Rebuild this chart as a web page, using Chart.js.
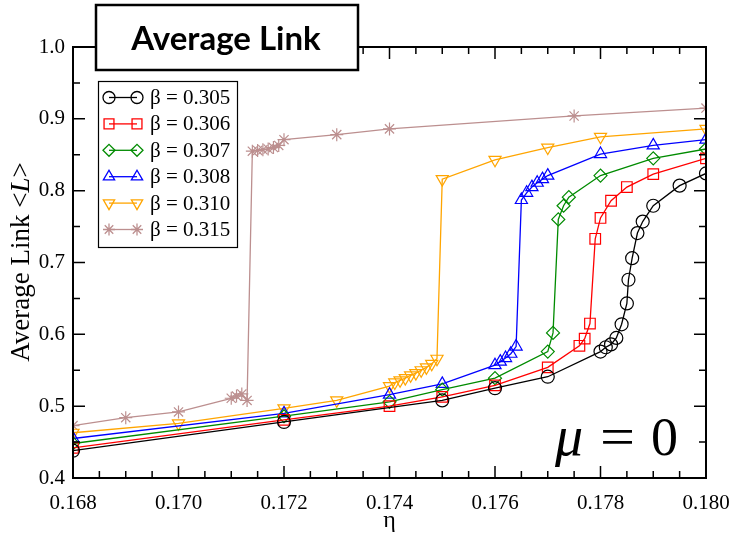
<!DOCTYPE html>
<html>
<head>
<meta charset="utf-8">
<script src="https://cdn.jsdelivr.net/npm/chart.js@4.4.0/dist/chart.umd.min.js"></script>
<style>
html, body { margin: 0; padding: 0; background: #fff; }
</style>
</head>
<body>
<canvas id="linkChart" width="730" height="538"></canvas>
<script>
// data: eta on x, average link <L> on y
var eta305 = [0.168, 0.172, 0.175, 0.176, 0.177, 0.178, 0.1781, 0.1782, 0.1783, 0.1784, 0.1785, 0.17853, 0.1786, 0.1787, 0.1788, 0.179, 0.1795, 0.180];
var link305 = [0.438, 0.478, 0.508, 0.525, 0.541, 0.576, 0.582, 0.586, 0.595, 0.614, 0.643, 0.676, 0.706, 0.741, 0.757, 0.779, 0.807, 0.824];

var eta306 = [0.168, 0.172, 0.174, 0.175, 0.176, 0.177, 0.1776, 0.1777, 0.1778, 0.1779, 0.178, 0.1782, 0.1785, 0.179, 0.180];
var link306 = [0.442, 0.481, 0.500, 0.513, 0.529, 0.554, 0.584, 0.594, 0.615, 0.733, 0.762, 0.786, 0.805, 0.823, 0.845];

var eta307 = [0.168, 0.172, 0.174, 0.175, 0.176, 0.177, 0.1771, 0.1772, 0.1773, 0.1774, 0.178, 0.179, 0.180];
var link307 = [0.448, 0.486, 0.506, 0.523, 0.539, 0.576, 0.602, 0.760, 0.779, 0.791, 0.821, 0.845, 0.858];

var eta308 = [0.168, 0.172, 0.174, 0.175, 0.176, 0.1761, 0.1762, 0.1763, 0.1764, 0.1765, 0.1766, 0.1767, 0.1768, 0.1769, 0.177, 0.178, 0.179, 0.180];
var link308 = [0.455, 0.490, 0.516, 0.531, 0.557, 0.562, 0.567, 0.573, 0.583, 0.787, 0.797, 0.805, 0.811, 0.816, 0.821, 0.851, 0.863, 0.871];

var eta310 = [0.168, 0.170, 0.172, 0.173, 0.174, 0.1741, 0.1742, 0.1743, 0.1744, 0.1745, 0.1746, 0.1747, 0.1748, 0.1749, 0.175, 0.176, 0.177, 0.178, 0.180];
var link310 = [0.463, 0.476, 0.497, 0.508, 0.528, 0.533, 0.536, 0.539, 0.543, 0.546, 0.550, 0.554, 0.559, 0.566, 0.816, 0.843, 0.860, 0.875, 0.886];

var eta315 = [0.168, 0.169, 0.170, 0.171, 0.1711, 0.1712, 0.1713, 0.1714, 0.1715, 0.1716, 0.1717, 0.1718, 0.1719, 0.172, 0.173, 0.174, 0.1775, 0.180];
var link315 = [0.473, 0.484, 0.492, 0.511, 0.514, 0.517, 0.508, 0.855, 0.856, 0.857, 0.858, 0.860, 0.863, 0.871, 0.878, 0.886, 0.904, 0.915];

var betaLabels = ['β = 0.305', 'β = 0.306', 'β = 0.307', 'β = 0.308', 'β = 0.310', 'β = 0.315'];

var serif = '"Liberation Serif", "DejaVu Serif", serif';

function pts(xs, ys) {
    return xs.map(function (x, i) { return { x: x, y: ys[i] }; });
}

function series(label, xs, ys, color, style, radius, rotation) {
    return {
        label: label,
        data: pts(xs, ys),
        borderColor: color,
        backgroundColor: 'transparent',
        pointBackgroundColor: 'transparent',
        pointBorderColor: color,
        pointStyle: style,
        pointRadius: radius,
        pointRotation: rotation || 0,
        pointBorderWidth: 1.2,
        borderWidth: 1.3,
        tension: 0,
    };
}

// frame with inward ticks, title box, legend, mu label, y title
var decor = {
    id: 'decor',
    afterDraw: function (chart) {
        var ctx = chart.ctx;
        var a = chart.chartArea;
        var xs = chart.scales.x;
        var ys = chart.scales.y;
        ctx.save();

        // ticks
        ctx.strokeStyle = '#000';
        ctx.lineWidth = 1.5;
        ctx.beginPath();
        for (var i = 0; i <= 24; i++) {
            var px = xs.getPixelForValue(0.168 + i * 0.0005);
            var len = i % 4 === 0 ? 12 : 7;
            ctx.moveTo(px, a.bottom); ctx.lineTo(px, a.bottom - len);
            ctx.moveTo(px, a.top); ctx.lineTo(px, a.top + len);
        }
        for (var j = 0; j <= 12; j++) {
            var py = ys.getPixelForValue(0.4 + j * 0.05);
            var l2 = j % 2 === 0 ? 12 : 7;
            ctx.moveTo(a.left, py); ctx.lineTo(a.left + l2, py);
            ctx.moveTo(a.right, py); ctx.lineTo(a.right - l2, py);
        }
        ctx.stroke();
        ctx.lineWidth = 2;
        ctx.strokeRect(a.left, a.top, a.right - a.left, a.bottom - a.top);

        // title box
        ctx.fillStyle = '#fff';
        ctx.fillRect(96, 5, 262, 65);
        ctx.lineWidth = 2.5;
        ctx.strokeRect(96, 5, 262, 65);
        ctx.fillStyle = '#000';
        ctx.font = 'bold 33px Lato, "Open Sans", sans-serif';
        ctx.textAlign = 'center';
        ctx.textBaseline = 'middle';
        ctx.fillText('Average Link', 226, 39);

        // legend
        ctx.fillStyle = '#fff';
        ctx.fillRect(98, 81, 139, 166);
        ctx.lineWidth = 1.2;
        ctx.strokeStyle = '#000';
        ctx.strokeRect(98.5, 81.5, 139, 166);
        chart.data.datasets.forEach(function (ds, k) {
            var y = 97.5 + k * 26.4;
            ctx.strokeStyle = ds.borderColor;
            ctx.lineWidth = 1.3;
            ctx.beginPath();
            ctx.moveTo(109, y); ctx.lineTo(137, y);
            ctx.stroke();
            ctx.fillStyle = 'rgba(0,0,0,0)';
            var opts = { pointStyle: ds.pointStyle, radius: ds.pointRadius - 0.5, rotation: ds.pointRotation, borderWidth: 1.2 };
            Chart.helpers.drawPoint(ctx, opts, 109, y);
            Chart.helpers.drawPoint(ctx, opts, 137, y);
            ctx.fillStyle = '#000';
            ctx.font = '21px ' + serif;
            ctx.textAlign = 'left';
            ctx.textBaseline = 'middle';
            ctx.fillText(betaLabels[k], 150, y + 1);
        });

        // mu = 0
        ctx.fillStyle = '#000';
        ctx.textBaseline = 'alphabetic';
        ctx.textAlign = 'left';
        ctx.font = 'italic 56px ' + serif;
        ctx.fillText('μ', 555, 455);
        ctx.font = '54px ' + serif;
        ctx.save();
        ctx.translate(600, 455);
        ctx.scale(1.15, 1);
        ctx.fillText('=', 0, 0);
        ctx.restore();
        ctx.fillText('0', 651, 455);

        // y axis title with italic L
        ctx.translate(22, 262);
        ctx.rotate(-Math.PI / 2);
        var fs = 27;
        var p1 = 'Average Link <', p2 = 'L', p3 = '>';
        ctx.font = fs + 'px ' + serif;
        var w1 = ctx.measureText(p1).width, w3 = ctx.measureText(p3).width;
        ctx.font = 'italic ' + fs + 'px ' + serif;
        var w2 = ctx.measureText(p2).width;
        var x0 = -(w1 + w2 + w3) / 2;
        ctx.textBaseline = 'middle';
        ctx.font = fs + 'px ' + serif;
        ctx.fillText(p1, x0, 0);
        ctx.font = 'italic ' + fs + 'px ' + serif;
        ctx.fillText(p2, x0 + w1, 0);
        ctx.font = fs + 'px ' + serif;
        ctx.fillText(p3, x0 + w1 + w2, 0);
        ctx.restore();
    }
};

var ctxL = document.getElementById('linkChart').getContext('2d');
var linkChart = new Chart(ctxL, {
    type: 'line',
    data: {
        datasets: [
            series(betaLabels[0], eta305, link305, '#000000', 'circle', 6.5),
            series(betaLabels[1], eta306, link306, '#ff0000', 'rect', 7.5),
            series(betaLabels[2], eta307, link307, '#008b00', 'rectRot', 6.5),
            series(betaLabels[3], eta308, link308, '#0000ff', 'triangle', 7),
            series(betaLabels[4], eta310, link310, '#ffa500', 'triangle', 7, 180),
            series(betaLabels[5], eta315, link315, '#bc8f8f', 'star', 6.5),
        ],
    },
    options: {
        responsive: false,
        animation: false,
        layout: { padding: { top: 47, right: 24, left: 0, bottom: 0 } },
        plugins: {
            legend: { display: false },
            tooltip: { enabled: false },
        },
        scales: {
            x: {
                type: 'linear',
                min: 0.168,
                max: 0.180,
                grid: { display: false, drawTicks: false },
                border: { display: false },
                ticks: {
                    stepSize: 0.002,
                    padding: 13,
                    color: '#000',
                    font: { family: serif, size: 21 },
                    callback: function (v) { return v.toFixed(3); },
                },
                title: {
                    display: true,
                    text: 'η',
                    color: '#000',
                    font: { family: serif, size: 24 },
                    padding: { top: 0, bottom: 3 },
                },
                afterFit: function (s) { s.height = 60; s.paddingLeft = 0; s.paddingRight = 0; },
            },
            y: {
                min: 0.4,
                max: 1.0,
                grid: { display: false, drawTicks: false },
                border: { display: false },
                ticks: {
                    stepSize: 0.1,
                    padding: 8,
                    color: '#000',
                    font: { family: serif, size: 21 },
                    callback: function (v) { return v.toFixed(1); },
                },
                afterFit: function (s) { s.width = 73; s.paddingTop = 0; s.paddingBottom = 0; },
            },
        },
    },
    plugins: [decor],
});
</script>
</body>
</html>
